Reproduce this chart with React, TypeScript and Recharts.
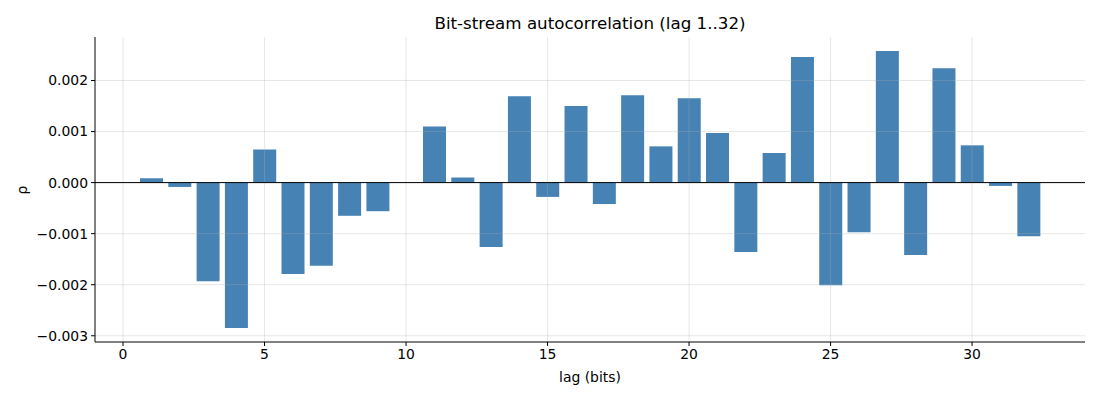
import { BarChart, Bar, XAxis, YAxis, ReferenceLine } from 'recharts';

const lags = [
  1, 2, 3, 4, 5, 6, 7, 8, 9, 10, 11, 12, 13, 14, 15, 16,
  17, 18, 19, 20, 21, 22, 23, 24, 25, 26, 27, 28, 29, 30, 31, 32,
];

const rho = [
  0.000085, -0.000085, -0.00193, -0.00285, 0.00065, -0.00179, -0.00163, -0.00065,
  -0.00056, 0.0, 0.0011, 0.0001, -0.00126, 0.00169, -0.00028, 0.0015,
  -0.00042, 0.00171, 0.00071, 0.00165, 0.00097, -0.00136, 0.00058, 0.00246,
  -0.00201, -0.00097, 0.00258, -0.00142, 0.00224, 0.00073, -0.000065, -0.00105,
];

const xTicks = [0, 5, 10, 15, 20, 25, 30];
const yTicks = [-0.003, -0.002, -0.001, 0, 0.001, 0.002];

const FONT = '"DejaVu Sans", sans-serif';
const BAR_COLOR = '#4682b4';
const GRID = '#b0b0b0';

const fmtY = (v: number) => v.toFixed(3).replace('-', '\u2212');

export default function App() {
  const chartData = lags.map((lag, i) => ({ lag, rho: rho[i] }));

  return (
    <div style={{ position: 'absolute', left: 0, top: 0, width: 1100, height: 400, background: '#fff', fontFamily: FONT }}>
      <div
        style={{
          position: 'absolute', left: 95, width: 990, top: 13, lineHeight: '20px',
          textAlign: 'center', fontSize: 16.7, color: '#000',
        }}
      >
        Bit-stream autocorrelation (lag 1..32)
      </div>
      <div
        style={{
          position: 'absolute', left: 95, width: 990, top: 368, lineHeight: '18px',
          textAlign: 'center', fontSize: 13.9, color: '#000',
        }}
      >
        lag (bits)
      </div>
      <div
        style={{
          position: 'absolute', left: 22, top: 190, fontSize: 13.9, color: '#000',
          transform: 'translate(-50%, -50%) rotate(-90deg)', lineHeight: '18px',
        }}
      >
        ρ
      </div>
      <BarChart
        width={1100}
        height={400}
        data={chartData}
        margin={{ top: 37, right: 15, bottom: 28, left: 0 }}
        barCategoryGap="10%"
        style={{ position: 'absolute', left: 0, top: 0 }}
      >
        <XAxis
          dataKey="lag"
          type="number"
          domain={[-0.99, 33.99]}
          ticks={xTicks}
          interval={0}
          height={30}
          tickSize={4}
          tickMargin={3}
          axisLine={{ stroke: '#000' }}
          tickLine={{ stroke: '#000' }}
          tick={{ fill: '#000', fontSize: 13.9, fontFamily: FONT }}
        />
        <YAxis
          type="number"
          domain={[-0.003122, 0.002852]}
          ticks={yTicks}
          interval={0}
          width={95}
          tickSize={4}
          tickMargin={3}
          tickFormatter={fmtY}
          axisLine={{ stroke: '#000' }}
          tickLine={{ stroke: '#000' }}
          tick={{ fill: '#000', fontSize: 13.9, fontFamily: FONT }}
        />
        <Bar dataKey="rho" fill={BAR_COLOR} isAnimationActive={false} />
        {/* grid sits over the bars, like the default matplotlib look */}
        {yTicks.map((t) => (
          <ReferenceLine key={`h${t}`} y={t} stroke={GRID} strokeOpacity={0.3} strokeWidth={1} />
        ))}
        {xTicks.map((t) => (
          <ReferenceLine key={`v${t}`} x={t} stroke={GRID} strokeOpacity={0.3} strokeWidth={1} />
        ))}
        <ReferenceLine y={0} stroke="#000" strokeWidth={1} />
      </BarChart>
    </div>
  );
}
